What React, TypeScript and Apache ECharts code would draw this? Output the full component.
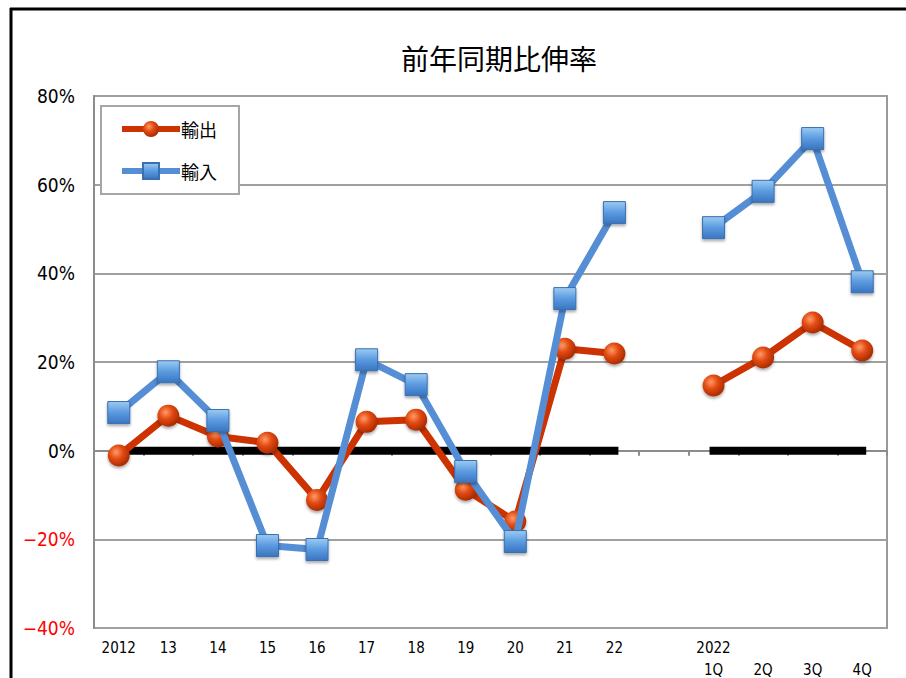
import React, { useEffect, useRef } from "react";
import * as echarts from "echarts";

const categories = ["2012", "13", "14", "15", "16", "17", "18", "19", "20", "21", "22", "", "2022\n1Q", "\n2Q", "\n3Q", "\n4Q"];
const exportsRate = [-1.1, 7.9, 3.2, 1.8, -11.1, 6.5, 7.0, -8.8, -16.0, 23.0, 21.9, null, 14.7, 21.0, 28.9, 22.6];
const importsRate = [8.6, 17.8, 6.8, -21.4, -22.3, 20.5, 14.9, -4.7, -20.5, 34.3, 53.7, null, 50.3, 58.5, 70.4, 38.1];
const zeroLine = [0, 0, 0, 0, 0, 0, 0, 0, 0, 0, 0, null, 0, 0, 0, 0];
const yTicks = { min: -40, max: 80, interval: 20 };

const NARROW = "'DejaVu Sans Condensed', 'Liberation Sans', sans-serif";
const JP = "'Noto Sans CJK JP', sans-serif";

export default function App() {
  const ref = useRef<HTMLDivElement>(null);
  useEffect(() => {
    if (!ref.current) return;
    const chart = echarts.init(ref.current, null, { renderer: "svg" });
    const circleFill = {
      type: "radial", x: 0.38, y: 0.35, r: 0.7,
      colorStops: [
        { offset: 0, color: "#ff9a66" },
        { offset: 0.45, color: "#e24a12" },
        { offset: 1, color: "#a32800" },
      ],
    };
    const squareFill = {
      type: "linear", x: 0, y: 0, x2: 0, y2: 1,
      colorStops: [
        { offset: 0, color: "#9ccbf2" },
        { offset: 0.5, color: "#5a9ae0" },
        { offset: 1, color: "#3a75c0" },
      ],
    };
    chart.setOption({
      animation: false,
      backgroundColor: "#ffffff",
      graphic: [
        { type: "line", shape: { x1: 10, y1: 9, x2: 906, y2: 9 }, style: { stroke: "#000", lineWidth: 3 } },
        { type: "line", shape: { x1: 11, y1: 8, x2: 11, y2: 720 }, style: { stroke: "#000", lineWidth: 3 } },
        {
          type: "text", x: 499, y: 58,
          style: {
            text: "前年同期比伸率", font: `normal 28px ${JP}`, fill: "#000",
            align: "center", verticalAlign: "middle",
          },
        },
      ],
      legend: {
        data: ["輸出", "輸入"],
        orient: "vertical",
        left: 101,
        top: 106,
        padding: [14, 22, 14, 18],
        itemGap: 24,
        itemWidth: 58,
        itemHeight: 20,
        lineStyle: { width: 6 },
        borderColor: "#a6a6a6",
        borderWidth: 2,
        backgroundColor: "#fff",
        textStyle: { fontSize: 18, fontFamily: JP, color: "#000", padding: [0, 0, 0, -4] },
      },
      grid: {
        left: 94, width: 793, top: 96, height: 532,
        show: true, borderColor: "#999", borderWidth: 2, containLabel: false,
      },
      xAxis: {
        type: "category",
        data: categories,
        boundaryGap: true,
        axisLine: { show: true, lineStyle: { color: "#8c8c8c", width: 2 } },
        axisTick: { show: true, length: 5, lineStyle: { color: "#8c8c8c", width: 2 } },
        axisLabel: {
          interval: 0, fontSize: 15, fontFamily: NARROW, color: "#000",
          lineHeight: 22, margin: 9,
        },
      },
      yAxis: {
        type: "value",
        min: yTicks.min, max: yTicks.max, interval: yTicks.interval,
        axisLine: { show: true, lineStyle: { color: "#8c8c8c", width: 2 } },
        axisTick: { show: false },
        splitLine: { show: true, lineStyle: { color: "#a0a0a0", width: 2 } },
        axisLabel: {
          fontSize: 19, fontFamily: NARROW, margin: 19,
          formatter: (v: number) => (v < 0 ? `−${Math.abs(v)}%` : `${v}%`),
          color: (v: any) => (Number(v) < 0 ? "#ff0000" : "#000000"),
        },
      },
      series: [
        {
          name: "zero",
          type: "line",
          data: zeroLine,
          symbol: "none",
          connectNulls: false,
          silent: true,
          z: 1,
          lineStyle: { color: "#000", width: 8, cap: "square" },
        },
        {
          name: "輸出",
          type: "line",
          data: exportsRate,
          connectNulls: false,
          symbol: "circle",
          symbolSize: 22,
          z: 3,
          lineStyle: { color: "#cc3300", width: 7 },
          itemStyle: {
            color: circleFill, borderWidth: 0,
            shadowBlur: 3, shadowColor: "rgba(0,0,0,0.35)", shadowOffsetY: 2,
          },
        },
        {
          name: "輸入",
          type: "line",
          data: importsRate,
          connectNulls: false,
          symbol: "rect",
          symbolSize: 22,
          z: 4,
          lineStyle: { color: "#558ed5", width: 7 },
          itemStyle: {
            color: squareFill, borderColor: "#3a6fb0", borderWidth: 1,
            shadowBlur: 3, shadowColor: "rgba(0,0,0,0.35)", shadowOffsetY: 2,
          },
        },
      ],
    });
    return () => chart.dispose();
  }, []);
  return (
    <div
      ref={ref}
      style={{ position: "fixed", left: 0, top: 0, width: 906, height: 700, background: "#fff" }}
    />
  );
}
